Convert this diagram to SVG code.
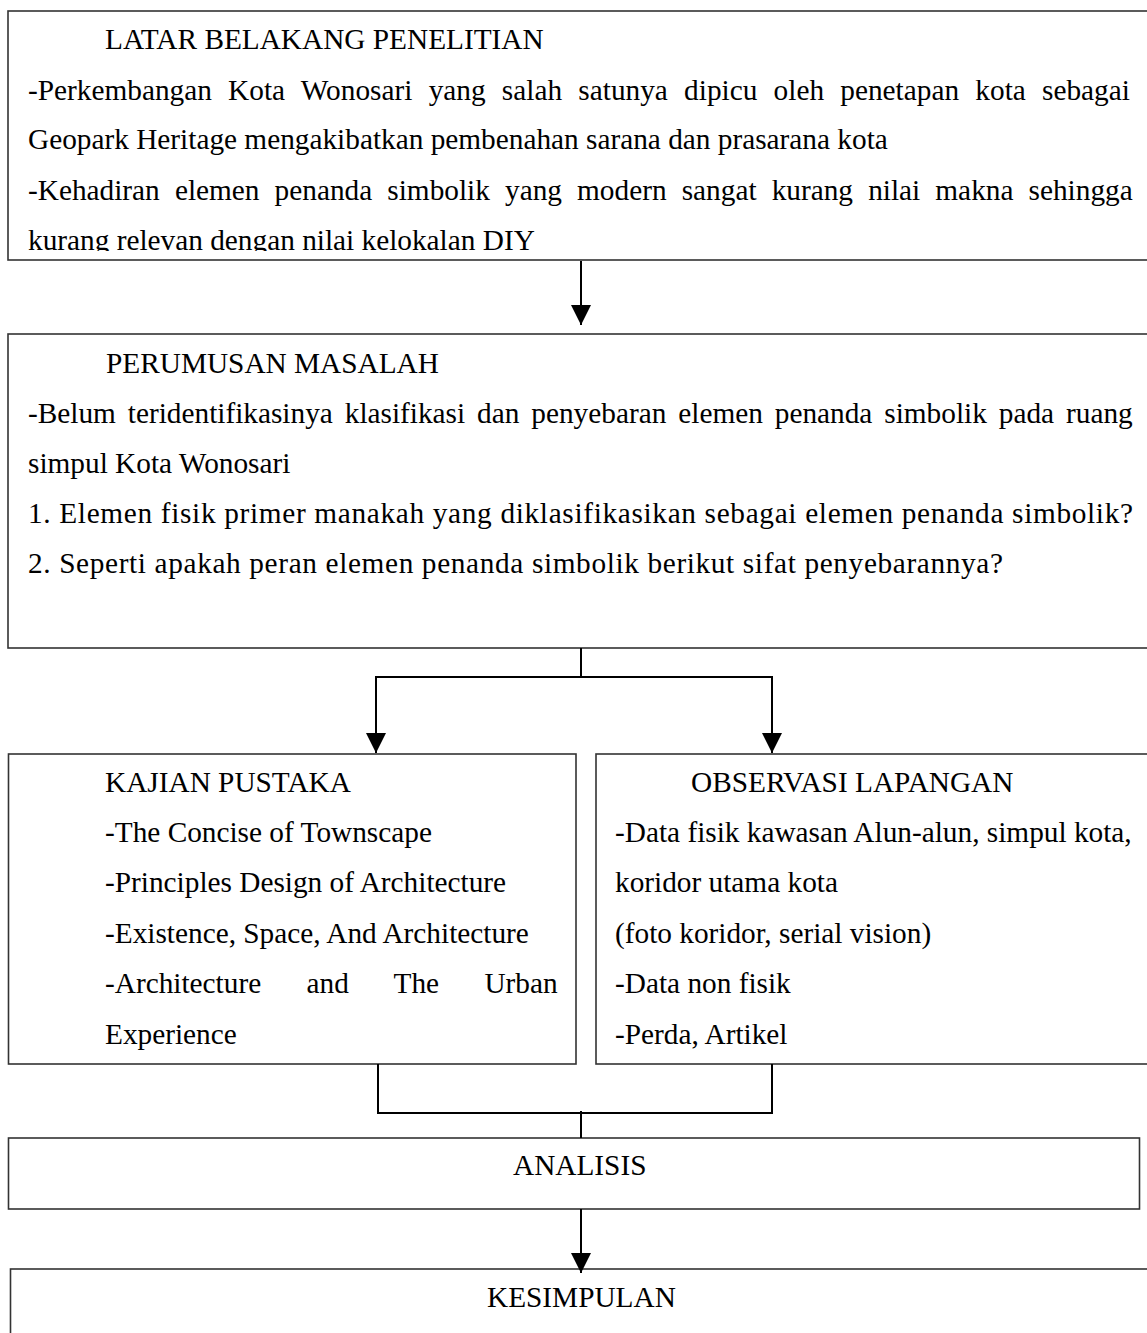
<svg xmlns="http://www.w3.org/2000/svg" width="1147" height="1333" viewBox="0 0 1147 1333">
<style>
.box{fill:#fff;stroke:#333;stroke-width:1.6}
.t{font-family:"Liberation Serif","Times New Roman",serif;font-size:29.3px;fill:#000}
.c{fill:none;stroke:#000;stroke-width:2}
</style>
<defs>
<marker id="ah" markerUnits="userSpaceOnUse" markerWidth="20" markerHeight="20" viewBox="0 0 20 20" refX="20" refY="10" orient="auto">
<path d="M0,0 L20,10 L0,20 z" fill="#000"/>
</marker>
<clipPath id="clip1"><rect x="0" y="0" width="1147" height="251"/></clipPath>
</defs>
<rect width="1147" height="1333" fill="#fff"/>

<g id="latar">
<rect class="box" x="8" y="11" width="1200" height="249"/>
<text class="t" x="105" y="49">LATAR BELAKANG PENELITIAN</text>
<text class="t" x="28" y="100" style="word-spacing:8.95px">-Perkembangan Kota Wonosari yang salah satunya dipicu oleh penetapan kota sebagai</text>
<text class="t" x="28" y="149">Geopark Heritage mengakibatkan pembenahan sarana dan prasarana kota</text>
<text class="t" x="28" y="200" style="word-spacing:7.8px">-Kehadiran elemen penanda simbolik yang modern sangat kurang nilai makna sehingga</text>
<text class="t" x="28" y="250" clip-path="url(#clip1)">kurang relevan dengan nilai kelokalan DIY</text>
</g>

<g id="perumusan">
<rect class="box" x="8" y="334" width="1200" height="314"/>
<text class="t" x="106" y="373">PERUMUSAN MASALAH</text>
<text class="t" x="28" y="423" style="word-spacing:4.6px">-Belum teridentifikasinya klasifikasi dan penyebaran elemen penanda simbolik pada ruang</text>
<text class="t" x="28" y="473">simpul Kota Wonosari</text>
<text class="t" x="28" y="523" textLength="1105" lengthAdjust="spacing">1. Elemen fisik primer manakah yang diklasifikasikan sebagai elemen penanda simbolik?</text>
<text class="t" x="28" y="573" textLength="975" lengthAdjust="spacing">2. Seperti apakah peran elemen penanda simbolik berikut sifat penyebarannya?</text>
</g>

<g id="kajian">
<rect class="box" x="8.5" y="754" width="567.5" height="310"/>
<text class="t" x="105" y="792">KAJIAN PUSTAKA</text>
<text class="t" x="105" y="842">-The Concise of Townscape</text>
<text class="t" x="105" y="892">-Principles Design of Architecture</text>
<text class="t" x="105" y="943">-Existence, Space, And Architecture</text>
<text class="t" x="105" y="993" style="word-spacing:38px">-Architecture and The Urban</text>
<text class="t" x="105" y="1044">Experience</text>
</g>

<g id="observasi">
<rect class="box" x="596" y="754" width="700" height="310"/>
<text class="t" x="691" y="792">OBSERVASI LAPANGAN</text>
<text class="t" x="615" y="842">-Data fisik kawasan Alun-alun, simpul kota,</text>
<text class="t" x="615" y="892">koridor utama kota</text>
<text class="t" x="615" y="943">(foto koridor, serial vision)</text>
<text class="t" x="615" y="993">-Data non fisik</text>
<text class="t" x="615" y="1044">-Perda, Artikel</text>
</g>

<g id="analisis">
<rect class="box" x="8.5" y="1138" width="1131" height="71"/>
<text class="t" x="513" y="1175">ANALISIS</text>
</g>

<g id="kesimpulan">
<rect class="box" x="10.5" y="1269" width="1200" height="200"/>
<text class="t" x="487" y="1307">KESIMPULAN</text>
</g>

<g id="connectors">
<path class="c" d="M581,261 V325" marker-end="url(#ah)"/>
<path class="c" d="M581,648 V677 H376 V753" marker-end="url(#ah)"/>
<path class="c" d="M581,677 H772 V753" marker-end="url(#ah)"/>
<path class="c" d="M378,1064 V1113 H772 V1064"/>
<path class="c" d="M581,1111 V1138"/>
<path class="c" d="M581,1209 V1273" marker-end="url(#ah)"/>
</g>
</svg>
